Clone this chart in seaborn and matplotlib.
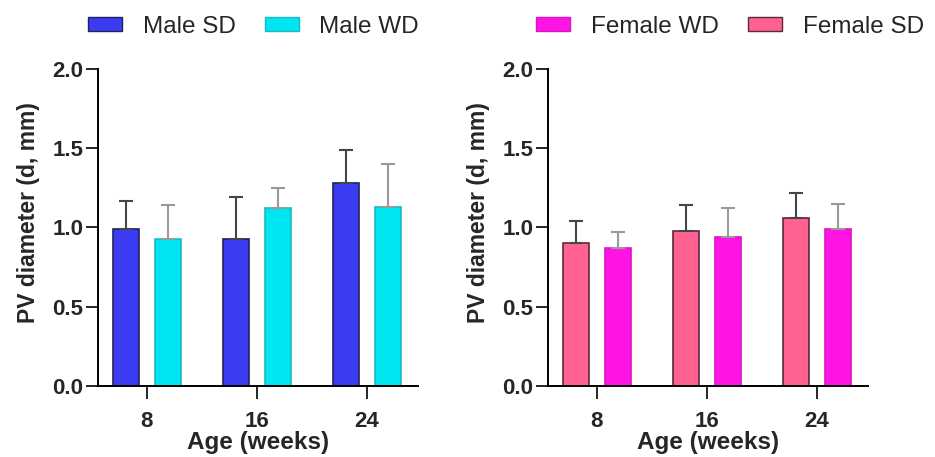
import numpy as np
import pandas as pd
import matplotlib
matplotlib.use("Agg")
import matplotlib.pyplot as plt
from matplotlib.patches import Patch
import seaborn as sns

# values
ages = ["8", "16", "24"]

male_sd = [0.99, 0.93, 1.28]
male_sd_err = [0.18, 0.26, 0.21]
male_wd = [0.93, 1.12, 1.13]
male_wd_err = [0.21, 0.13, 0.27]

female_sd = [0.90, 0.98, 1.06]
female_sd_err = [0.14, 0.16, 0.16]
female_wd = [0.87, 0.94, 0.99]
female_wd_err = [0.10, 0.18, 0.16]

colors = {
    "Male SD": "#3b3bf2",
    "Male WD": "#00e6f0",
    "Female SD": "#ff6290",
    "Female WD": "#ff14e4",
}
edges = {
    "Male SD": "#22225a",
    "Male WD": "#20b8c0",
    "Female SD": "#5a2a3a",
    "Female WD": "#e010c8",
}
err_colors = {
    "Male SD": "#454545",
    "Male WD": "#9a9a9a",
    "Female SD": "#454545",
    "Female WD": "#9a9a9a",
}

sns.set_style("ticks")
plt.rcParams["font.family"] = ["Liberation Sans", "DejaVu Sans"]


def draw_panel(ax, groups, vals, errs):
    df = pd.DataFrame({
        "age": ages * len(groups),
        "group": np.repeat(groups, len(ages)),
        "value": np.concatenate(vals),
    })
    sns.barplot(data=df, x="age", y="value", hue="group", order=ages,
                hue_order=groups, palette=[colors[g] for g in groups],
                errorbar=None, width=0.76, gap=0.38, dodge=True,
                legend=False, ax=ax, saturation=1)
    # error bars (upper only), one container per hue level
    for cont, g, v, e in zip(ax.containers, groups, vals, errs):
        xs = [p.get_x() + p.get_width() / 2 for p in cont.patches]
        for p in cont.patches:
            p.set_edgecolor(edges[g])
            p.set_linewidth(1.2)
        ax.errorbar(xs, v, yerr=[np.zeros(len(e)), e], fmt="none",
                    ecolor=err_colors[g], elinewidth=1.5, capsize=5,
                    capthick=1.5, zorder=1)
    ax.set_ylim(0, 2.0)
    ax.set_xlim(-0.445, 2.464)
    ax.set_yticks([0, 0.5, 1.0, 1.5, 2.0])
    ax.set_yticklabels(["0.0", "0.5", "1.0", "1.5", "2.0"])
    ax.set_xlabel("Age (weeks)", fontsize=17.5, fontweight="bold",
                  labelpad=-1)
    ax.set_ylabel("PV diameter (d, mm)", fontsize=16.5, fontweight="bold",
                  labelpad=9)
    ax.yaxis.label.set_y(0.547)
    for lab in ax.get_xticklabels() + ax.get_yticklabels():
        lab.set_fontweight("bold")
        lab.set_fontsize(16)
    ax.tick_params(axis="y", length=9, width=1.4, pad=1.5)
    ax.tick_params(axis="x", length=9.5, width=1.4, pad=8.5)
    for s in ["left", "bottom"]:
        ax.spines[s].set_linewidth(1.4)
        ax.spines[s].set_color("black")
    sns.despine(ax=ax)


fig = plt.figure(figsize=(9.35, 4.57), dpi=100)
ax1 = fig.add_axes([0.1048, 0.1554, 0.342, 0.6936])
ax2 = fig.add_axes([0.586, 0.1554, 0.342, 0.6936])

draw_panel(ax1, ["Male SD", "Male WD"], [male_sd, male_wd],
           [male_sd_err, male_wd_err])
draw_panel(ax2, ["Female SD", "Female WD"], [female_sd, female_wd],
           [female_sd_err, female_wd_err])


def legend_for(names, x):
    handles = [Patch(facecolor=colors[n], edgecolor=edges[n], linewidth=1)
               for n in names]
    fig.legend(handles, names, loc="center", bbox_to_anchor=(x, 0.941),
               ncol=2, frameon=False, fontsize=17.5, handlelength=1.4,
               handleheight=0.5, columnspacing=1.2, handletextpad=0.85)


legend_for(["Male SD", "Male WD"], 0.271)
legend_for(["Female WD", "Female SD"], 0.781)

fig.savefig("out.png", dpi=100)
